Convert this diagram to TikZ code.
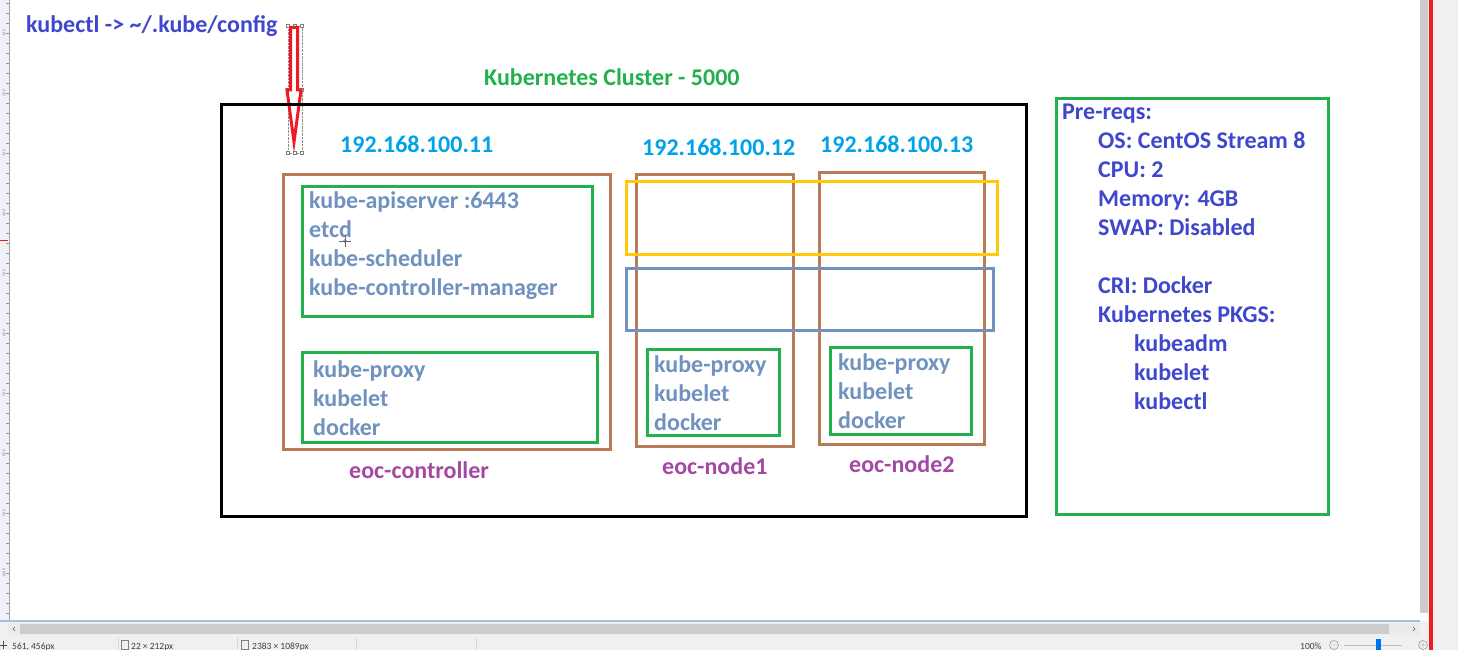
\documentclass[tikz,border=0pt]{standalone}
\usepackage{fontspec}
\setmainfont{Carlito}
\definecolor{reqblue}{HTML}{3F48CC}
\definecolor{clustergreen}{HTML}{22B14C}
\definecolor{ipcyan}{HTML}{00A2E8}
\definecolor{nodebrown}{HTML}{B97A57}
\definecolor{bandgold}{HTML}{FFC90E}
\definecolor{svcslate}{HTML}{7092BE}
\definecolor{hostpurple}{HTML}{A349A4}
\definecolor{arrowred}{HTML}{ED1C24}
\definecolor{chromebg}{HTML}{F0F0F0}
\definecolor{rulerbg}{HTML}{EEF2F8}
\begin{document}
\begin{tikzpicture}[x=1pt,y=-1pt,
    txt/.style={font=\fontsize{24}{29}\selectfont\bfseries, inner sep=0pt, anchor=base west},
    ip/.style={txt, text=ipcyan},
    host/.style={txt, text=hostpurple},
    svc/.style={txt, text=svcslate, align=left},
    req/.style={txt, text=reqblue, align=left},
    box/.style={line width=3pt},
    ui/.style={font=\fontsize{9.5}{10}\selectfont, inner sep=0pt, anchor=base west, text=black!75}]
    \useasboundingbox (0,0) rectangle (1458,650);
    \fill[white] (0,0) rectangle (1458,650);

    % Marco de la ventana
    \fill[rulerbg] (0,0) rectangle (9,621);
    \draw[black!35] (9.5,0) -- (9.5,621);
    \foreach \y in {3,13,...,613}
        \draw[black!40] (6,\y) -- (9,\y);
    \foreach \n in {1,...,10}
        \node[font=\fontsize{4}{4}\selectfont, text=black!50, rotate=90, inner sep=0pt] (ruler\n) at (4,{33+60*(\n-1)}) {\n00};
    \draw[arrowred, line width=1pt] (0,240) -- (8,240);
    \fill[black!20] (1420,0) rectangle (1428,613);
    \fill[chromebg] (1428,0) rectangle (1458,650);
    \fill[arrowred] (1429,0) rectangle (1433,650);
    \fill[chromebg] (0,621) rectangle (1428,650);
    \draw[svcslate!60, line width=1.5pt] (0,621) -- (1420,621);
    \fill[black!8] (8,623) rectangle (1420,635);
    \fill[black!20] (20,624) rectangle (1389,634);
    \draw[black!60] (15,627) -- (13,629) -- (15,631);
    \draw[black!60] (1413,627) -- (1415,629) -- (1413,631);
    \foreach \x in {118,237,356,476}
        \draw[black!15] (\x,637) -- (\x,650);
    \draw[black!70] (0,645) -- (7,645) (3.5,641) -- (3.5,649);
    \node[ui] (cursorpos) at (12,649) {561, 456px};
    \draw[black!50] (121,640) rectangle (128,649);
    \node[ui] (selsize) at (131,649) {22 × 212px};
    \draw[black!50] (241,640) rectangle (248,649);
    \node[ui] (imgsize) at (252,649) {2383 × 1089px};
    \node[ui] (zoomlvl) at (1300,649) {100\%};
    \draw[black!50] (1334,645) circle (4.5pt) (1331,645) -- (1337,645);
    \draw[black!25, line width=1pt] (1344,645) -- (1402,645);
    \fill[ipcyan!70!blue] (1376,639) rectangle (1381,651);
    \draw[black!50] (1423,645) circle (4.5pt) (1420,645) -- (1426,645) (1423,642) -- (1423,648);

    % Texto de arriba y flecha
    \node[txt, text=reqblue] (kubeconfig) at (26,33) {kubectl -> \textasciitilde/.kube/config};
    \draw[black!45, densely dotted] (288,26) rectangle (302,153);
    \foreach \hx/\hy in {288/26,295/26,302/26,288/90,302/90,288/153,295/153,302/153}
        \draw[black!50, fill=white, line width=0.4pt] (\hx-1.5,\hy-1.5) rectangle (\hx+1.5,\hy+1.5);
    \draw[arrowred, line width=3pt, fill=white] (290.5,27.5) -- (297.5,27.5) -- (297.5,90) -- (301,90)
        -- (294,142) -- (287,90) -- (290.5,90) -- cycle;

    % Cluster
    \node[txt, text=clustergreen] (clustertitle) at (484,86) {Kubernetes Cluster - 5000};
    \draw[box, black] (221,105) rectangle (1026,516);
    \node[ip] (ip11) at (340,153) {192.168.100.11};
    \node[ip] (ip12) at (642,155) {192.168.100.12};
    \node[ip] (ip13) at (820,153) {192.168.100.13};

    % eoc-controller (base = ultima linea)
    \draw[box, nodebrown] (283,174) rectangle (610,449);
    \draw[box, clustergreen] (302,186) rectangle (592,316);
    \node[svc] (ctrlplane) at (309,295) {kube-apiserver :6443\\etcd\\kube-scheduler\\kube-controller-manager};
    \draw[box, clustergreen] (302,352) rectangle (597,442);
    \node[svc] (ctrlworker) at (313,435) {kube-proxy\\kubelet\\docker};
    \node[host] (ctrlname) at (349,478) {eoc-controller};
    \draw[black!60, line width=0.6pt] (339,241) -- (351,241) (345,235) -- (345,247);
    \draw[black!60, line width=0.6pt] (345,241) circle (1.5pt);

    % eoc-node1 y eoc-node2
    \draw[box, nodebrown] (636,174) rectangle (793,446);
    \draw[box, clustergreen] (647,349) rectangle (779,435);
    \node[svc] (node1svc) at (654,430) {kube-proxy\\kubelet\\docker};
    \node[host] (node1name) at (662,474) {eoc-node1};
    \draw[box, nodebrown] (819,172) rectangle (984,444);
    \draw[box, clustergreen] (830,347) rectangle (971,434);
    \node[svc] (node2svc) at (838,428) {kube-proxy\\kubelet\\docker};
    \node[host] (node2name) at (849,472) {eoc-node2};
    \draw[box, bandgold] (626,181) rectangle (997,254);
    \draw[box, svcslate] (626,268) rectangle (993,330);

    % Requisitos
    \draw[box, clustergreen] (1056,99) rectangle (1328,514);
    \node[req] (prereqs) at (1062,409) {Pre-reqs:\\
        \hspace*{36pt}OS: CentOS Stream 8\\
        \hspace*{36pt}CPU: 2\\
        \hspace*{36pt}Memory: 4GB\\
        \hspace*{36pt}SWAP: Disabled\\[29pt]
        \hspace*{36pt}CRI: Docker\\
        \hspace*{36pt}Kubernetes PKGS:\\
        \hspace*{72pt}kubeadm\\
        \hspace*{72pt}kubelet\\
        \hspace*{72pt}kubectl};
\end{tikzpicture}
\end{document}
